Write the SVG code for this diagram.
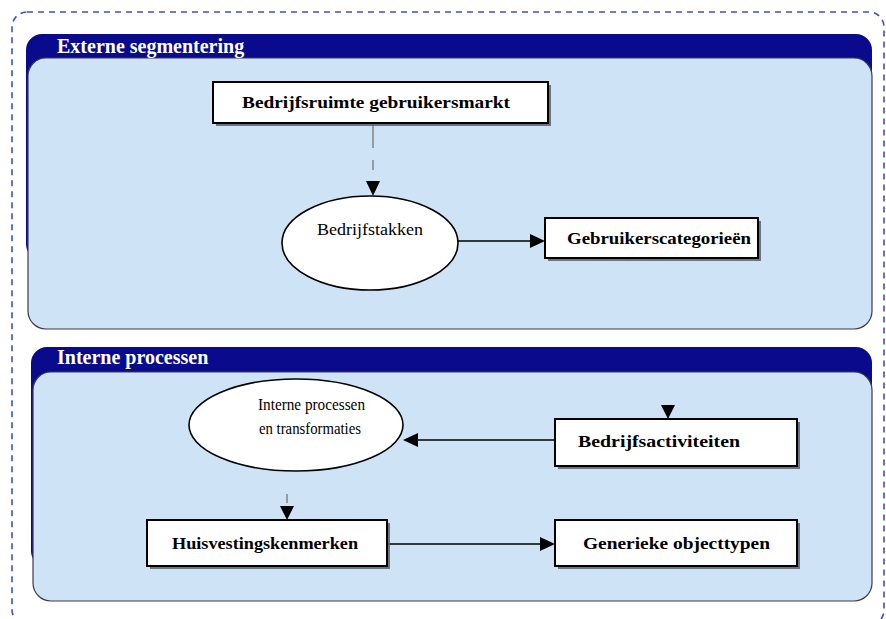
<svg xmlns="http://www.w3.org/2000/svg" width="886" height="619" viewBox="0 0 886 619">
<style>
.outer{fill:none;stroke:#3d52c4;stroke-width:1.6;stroke-dasharray:6 5}
.hdr{fill:#0a0a8c}
.panel{fill:#cfe3f6;stroke:#3b3b55;stroke-width:1.2}
.htxt{font-family:"Liberation Serif",serif;font-weight:bold;font-size:20px;fill:#ffffff}
.box{fill:#ffffff;stroke:#000;stroke-width:2}
.shadow{fill:#5e5e6c;opacity:.85}
.ell{fill:#ffffff;stroke:#000;stroke-width:1.6}
.bt{font-family:"Liberation Serif",serif;font-weight:bold;font-size:17px;fill:#000}
.et{font-family:"Liberation Serif",serif;font-size:17.5px;fill:#000}
.line{stroke:#000;stroke-width:1.6;fill:none}
.dash{stroke:#555;stroke-width:1;fill:none}
.head{fill:#000}
</style>
<rect class="outer" x="12" y="12" width="872" height="613" rx="15"/>
<g id="panel-extern">
<rect class="hdr" x="26" y="34" width="846" height="226" rx="16"/>
<rect class="panel" x="28" y="58" width="844" height="271" rx="18"/>
<text class="htxt" x="57" y="53">Externe segmentering</text>
</g>
<g id="panel-intern">
<rect class="hdr" x="31" y="347" width="841" height="220" rx="16"/>
<rect class="panel" x="33" y="372" width="839" height="229" rx="18"/>
<text class="htxt" x="57" y="364">Interne processen</text>
</g>
<g id="connectors">
<path class="dash" d="M373 124 V148 M373 160 V170"/>
<path class="head" d="M366 181 L380 181 L373 196 Z"/>
<path class="line" d="M458 241 H532"/>
<path class="head" d="M530 234 L545 241 L530 248 Z"/>
<path class="head" d="M661 405 L675 405 L668 419 Z"/>
<path class="line" d="M555 440 H416"/>
<path class="head" d="M418 433 L403 440 L418 447 Z"/>
<path class="dash" d="M287 494 V503"/>
<path class="head" d="M280 506 L294 506 L287 520 Z"/>
<path class="line" d="M388 544 H542"/>
<path class="head" d="M540 537 L555 544 L540 551 Z"/>
</g>
<g id="n-markt">
<rect class="shadow" x="216" y="85" width="335" height="41"/>
<rect class="box" x="213" y="82" width="335" height="41"/>
<text class="bt" x="242" y="108" textLength="268" lengthAdjust="spacingAndGlyphs">Bedrijfsruimte gebruikersmarkt</text>
</g>
<g id="n-takken">
<ellipse class="ell" cx="370" cy="243" rx="88" ry="47"/>
<text class="et" x="317" y="235" textLength="106" lengthAdjust="spacingAndGlyphs">Bedrijfstakken</text>
</g>
<g id="n-categorieen">
<rect class="shadow" x="548" y="221" width="213" height="40"/>
<rect class="box" x="545" y="218" width="213" height="40"/>
<text class="bt" x="567" y="244" textLength="184" lengthAdjust="spacingAndGlyphs">Gebruikerscategorieën</text>
</g>
<g id="n-processen">
<ellipse class="ell" cx="296" cy="425" rx="107" ry="46"/>
<text class="et" x="258" y="410" textLength="107" lengthAdjust="spacingAndGlyphs">Interne processen</text>
<text class="et" x="259" y="434" textLength="102" lengthAdjust="spacingAndGlyphs">en transformaties</text>
</g>
<g id="n-activiteiten">
<rect class="shadow" x="558" y="422" width="242" height="47"/>
<rect class="box" x="555" y="419" width="242" height="47"/>
<text class="bt" x="578" y="447" textLength="162" lengthAdjust="spacingAndGlyphs">Bedrijfsactiviteiten</text>
</g>
<g id="n-huisvesting">
<rect class="shadow" x="150" y="523" width="240" height="46"/>
<rect class="box" x="147" y="520" width="240" height="46"/>
<text class="bt" x="172" y="549" textLength="186" lengthAdjust="spacingAndGlyphs">Huisvestingskenmerken</text>
</g>
<g id="n-objecttypen">
<rect class="shadow" x="558" y="523" width="242" height="46"/>
<rect class="box" x="555" y="520" width="242" height="46"/>
<text class="bt" x="583" y="549" textLength="187" lengthAdjust="spacingAndGlyphs">Generieke objecttypen</text>
</g>
</svg>
